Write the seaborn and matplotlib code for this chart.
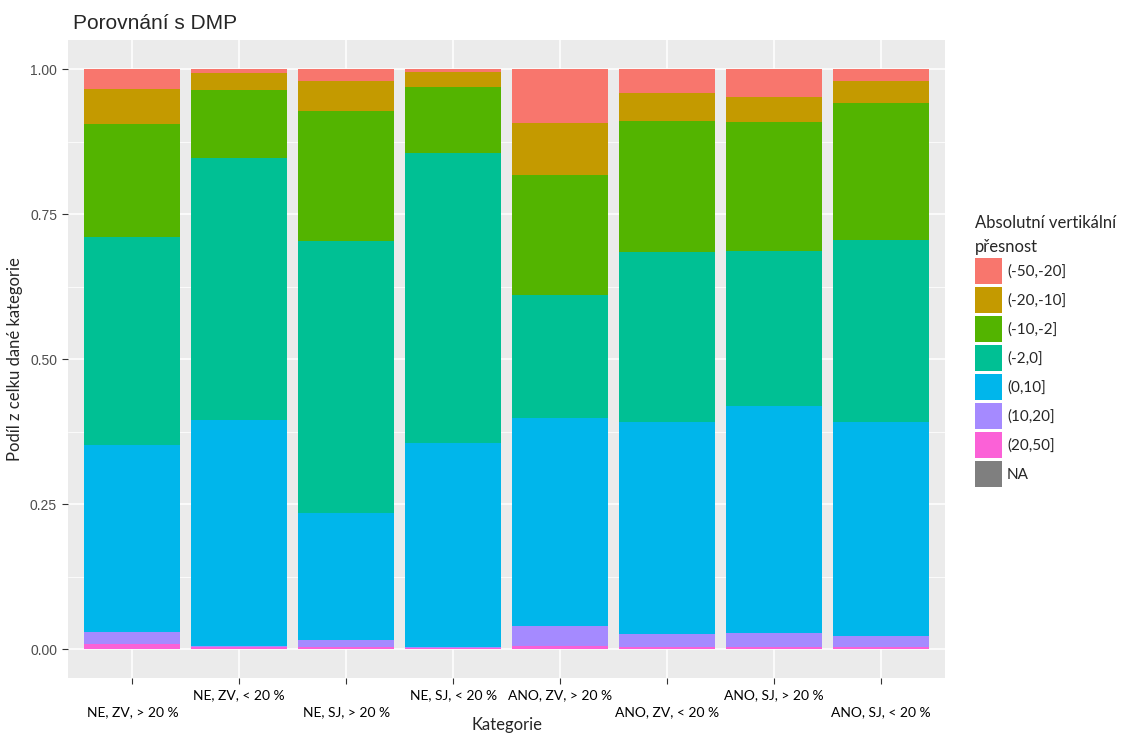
import pandas as pd
import matplotlib.pyplot as plt
import seaborn as sns
from matplotlib.patches import Patch
from matplotlib.ticker import MultipleLocator

# Categories on the x axis
kategorie = ["NE, ZV, > 20 %", "NE, ZV, < 20 %", "NE, SJ, > 20 %", "NE, SJ, < 20 %",
             "ANO, ZV, > 20 %", "ANO, ZV, < 20 %", "ANO, SJ, > 20 %", "ANO, SJ, < 20 %"]

# Accuracy intervals (legend order, top of the stack first)
intervaly = ["(-50,-20]", "(-20,-10]", "(-10,-2]", "(-2,0]", "(0,10]", "(10,20]", "(20,50]", "NA"]
barvy = ["#F8766D", "#C49A00", "#53B400", "#00C094", "#00B6EB", "#A58AFF", "#FB61D7", "#7F7F7F"]

# Share of each interval in each category
podil_m50_m20 = [0.034, 0.006, 0.021, 0.004, 0.093, 0.041, 0.048, 0.021]
podil_m20_m10 = [0.061, 0.030, 0.051, 0.026, 0.089, 0.048, 0.043, 0.037]
podil_m10_m2 = [0.195, 0.117, 0.224, 0.114, 0.208, 0.227, 0.222, 0.236]
podil_m2_0 = [0.358, 0.452, 0.470, 0.500, 0.211, 0.293, 0.268, 0.315]
podil_0_10 = [0.322, 0.389, 0.219, 0.353, 0.360, 0.365, 0.391, 0.368]
podil_10_20 = [0.022, 0.003, 0.011, 0.002, 0.033, 0.022, 0.024, 0.019]
podil_20_50 = [0.008, 0.003, 0.004, 0.001, 0.006, 0.004, 0.004, 0.004]

podily = [podil_m50_m20, podil_m20_m10, podil_m10_m2, podil_m2_0,
          podil_0_10, podil_10_20, podil_20_50]

# Long-form table for seaborn
rows = []
for interval, hodnoty in zip(intervaly[:-1], podily):
    for kat, h in zip(kategorie, hodnoty):
        rows.append({"Kategorie": kat, "Interval": interval, "Podil": h})
df = pd.DataFrame(rows)

sns.set_theme(style="darkgrid", rc={
    "axes.facecolor": "#EBEBEB",
    "grid.color": "white",
    "axes.edgecolor": "#EBEBEB",
})
plt.rcParams["font.family"] = ["Liberation Sans", "DejaVu Sans"]

fig = plt.figure(figsize=(11.36, 7.33), dpi=100)
ax = fig.add_axes([0.060, 0.075, 0.772, 0.870])

paleta = dict(zip(intervaly, barvy))
sns.histplot(data=df, x="Kategorie", hue="Interval", weights="Podil",
             hue_order=intervaly[:-1], palette=paleta, multiple="stack",
             discrete=True, shrink=0.9, alpha=1, linewidth=0, legend=False, ax=ax)

ax.set_xlim(-0.6, len(kategorie) - 0.4)
ax.set_ylim(-0.05, 1.05)
ax.yaxis.set_major_locator(MultipleLocator(0.25))
ax.yaxis.set_minor_locator(MultipleLocator(0.125))
ax.set_yticks([0, 0.25, 0.5, 0.75, 1.0])
ax.set_yticklabels(["0.00", "0.25", "0.50", "0.75", "1.00"], color="#4D4D4D", fontsize=10)
ax.grid(which="major", color="white", linewidth=1.1)
ax.grid(which="minor", axis="y", color="white", linewidth=0.55)
ax.set_axisbelow(True)
for s in ax.spines.values():
    s.set_visible(False)

# staggered x labels like the original
posun = [1, 0, 1, 0, 0, 1, 0, 1]
ax.set_xticks(range(len(kategorie)))
ax.set_xticklabels([("\n" if p else "") + k for k, p in zip(kategorie, posun)],
                   fontsize=10, color="black", family=["Lato", "DejaVu Sans"],
                   linespacing=1.5)
ax.tick_params(axis="both", which="major", length=4, width=0.8, color="#333333",
               bottom=True, left=True, pad=4)
ax.tick_params(axis="y", which="minor", length=0)

ax.set_xlabel("Kategorie", fontsize=12, family=["Lato", "DejaVu Sans"], labelpad=-1)
ax.set_ylabel("Podíl z celku dané kategorie", fontsize=12,
              family=["Lato", "DejaVu Sans"], labelpad=5)
ax.set_title("Porovnání s DMP", loc="left", fontsize=15, pad=8, x=0.005)

handles = [Patch(facecolor=c, edgecolor="none") for c in barvy]
leg = fig.legend(handles, intervaly, title="Absolutní vertikální\npřesnost",
                 loc="upper left", bbox_to_anchor=(0.846, 0.725), frameon=False,
                 handlelength=1.75, handleheight=2.2, labelspacing=0.22,
                 handletextpad=0.35, alignment="left",
                 prop={"family": ["Lato", "DejaVu Sans"], "size": 11},
                 title_fontproperties={"family": ["Lato", "DejaVu Sans"], "size": 12})
leg.get_title().set_linespacing(1.6)

fig.savefig("out.png", dpi=100)
